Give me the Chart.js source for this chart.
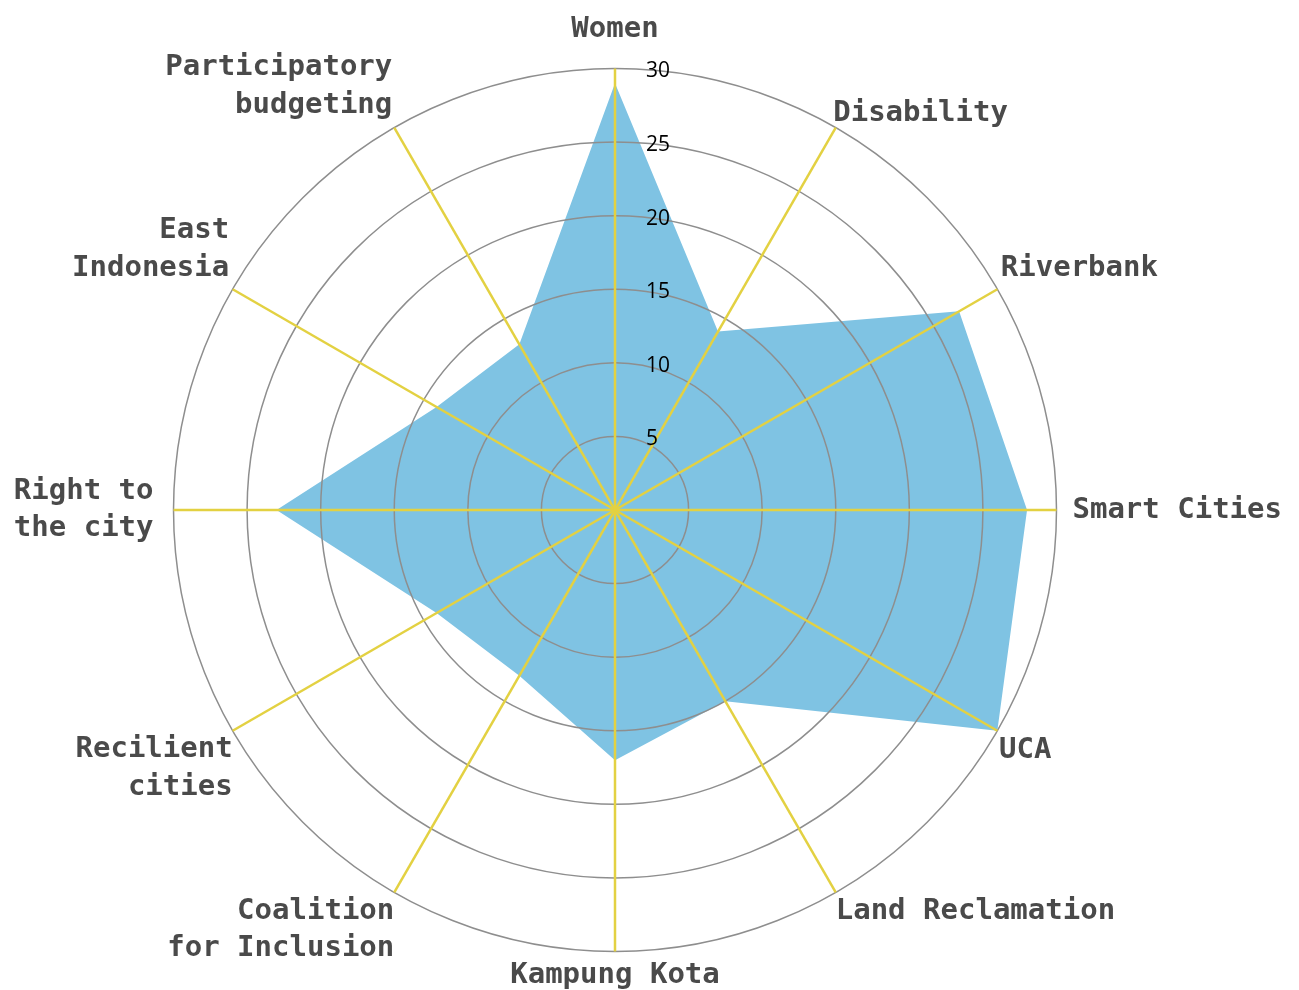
<!DOCTYPE html>
<html>
<head>
<meta charset="utf-8">
<script src="https://cdn.jsdelivr.net/npm/chart.js@4/dist/chart.umd.min.js"></script>
<style>
  html, body { margin: 0; padding: 0; background: #fff; overflow: hidden; }
  /* canvas a bit larger than the window so the radar gets the same radius as the original */
  #wrap { width: 1334px; height: 1020px; position: absolute; left: -19px; top: -7px; }
</style>
</head>
<body>
<div id="wrap"><canvas id="radar"></canvas></div>
<script>
const labels = [
    'Women',
    'Disability',
    'Riverbank',
    'Smart Cities',
    'UCA',
    'Land Reclamation',
    'Kampung Kota',
    ['Coalition', 'for Inclusion'],
    ['Recilient', 'cities'],
    ['Right to', 'the city'],
    ['East', 'Indonesia'],
    ['Participatory', 'budgeting'],
];

const values = [29, 14, 27, 28, 30, 15, 17, 13, 14, 23, 14, 13];

const tickValues = [5, 10, 15, 20, 25, 30];

// gap between the outer ring and each label
const labelGap = [20, -5, 4, 16, 2, 0, 5, 0, 0, 20, 4, 4];

// tick labels sit to the right of the vertical axis, drawn on top of everything
const tickLabelPlugin = {
    id: 'tickLabels',
    afterDraw(chart) {
        const scale = chart.scales.r;
        const ctx = chart.ctx;
        ctx.save();
        ctx.font = '21px "Open Sans"';
        ctx.fillStyle = '#000';
        ctx.textAlign = 'left';
        ctx.textBaseline = 'middle';
        tickValues.forEach(v => {
            const d = scale.getDistanceFromCenterForValue(v);
            ctx.fillText(String(v), scale.xCenter + 31, scale.yCenter - d + 3);
        });
        ctx.restore();
    }
};

const config = {
    type: 'radar',
    data: {
        labels: labels,
        datasets: [{
            data: values,
            backgroundColor: '#7fc3e3',
            borderWidth: 0,
            pointRadius: 0,
            fill: true,
        }]
    },
    options: {
        responsive: true,
        maintainAspectRatio: false,
        animation: false,
        plugins: {
            legend: { display: false },
            tooltip: { enabled: false },
        },
        scales: {
            r: {
                min: 0,
                max: 30,
                ticks: { stepSize: 5, display: false },
                grid: { z: 1, color: '#8e8e8e', lineWidth: 1.5, circular: true },
                angleLines: { color: '#e3d142', lineWidth: 2.5 },
                pointLabels: {
                    color: '#4a4a4a',
                    padding: ctx => labelGap[ctx.index],
                    font: { family: 'DejaVu Sans Mono', weight: 'bold', size: 29, lineHeight: 1.3 },
                },
            }
        }
    },
    plugins: [tickLabelPlugin],
};

new Chart(document.getElementById('radar'), config);
</script>
</body>
</html>
